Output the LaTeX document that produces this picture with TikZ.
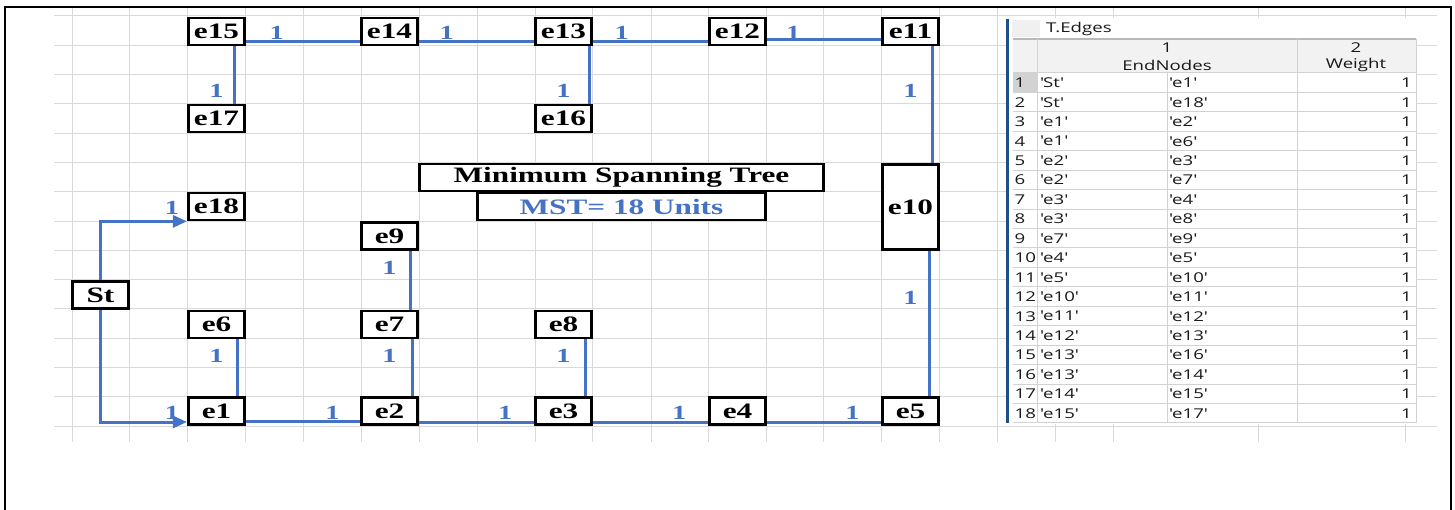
\documentclass[tikz,border=0pt]{standalone}
\usepackage{fontspec}
\setmainfont{Liberation Serif}
\newfontfamily\dgfont{Liberation Serif}[FakeStretch=1.42]
\newfontfamily\tbfont{Open Sans}[FakeStretch=1.38]
\usetikzlibrary{arrows.meta}
\definecolor{lineblue}{RGB}{68,114,196}
\definecolor{barblue}{RGB}{31,78,137}
\definecolor{gridgray}{RGB}{217,217,217}
\definecolor{cellgray}{RGB}{210,210,210}
\definecolor{hdrgray}{RGB}{242,242,242}
\definecolor{tabtext}{RGB}{25,25,25}
\newcommand\qq[1]{\textquotesingle#1\textquotesingle}
\begin{document}
\begin{tikzpicture}[x=1pt,y=-1pt,
  box/.style={draw, line width=2.7pt, fill=white, minimum width=56.5pt, minimum height=27pt,
    inner sep=0pt, font=\dgfont\bfseries\fontsize{22}{22}\selectfont},
  edge/.style={draw=lineblue, line width=3pt},
  tip/.style={-{Triangle[length=14pt,width=12pt]}},
  wt/.style={text=lineblue, inner sep=0pt, font=\dgfont\bfseries\fontsize{20}{20}\selectfont},
  gridline/.style={draw=gridgray, line width=1pt},
  tb/.style={inner sep=0pt, text=tabtext, font=\tbfont\fontsize{13.5}{13.5}\selectfont},
  tabline/.style={draw=cellgray, line width=1pt}]
\useasboundingbox (0,0) rectangle (1455,510);

% spreadsheet grid in the background
\foreach \gx in {72,129,187,245,303,361,419,477,535,592,651,708,766,823,881,939,997,1055,1113,1258,1405}
  \draw[gridline] (\gx,7) -- (\gx,442);
\foreach \k in {0,...,14}{
  \pgfmathsetmacro\gy{16+29.3*\k}
  \draw[gridline] (54,\gy) -- (1437,\gy);
}

% outer frame
\draw[line width=2pt] (5,510) -- (5,7) -- (1451,7) -- (1451,510);

% ---------------- tree nodes ----------------
\node[box] (e15) at (216.5,31.5) {e15};
\node[box] (e14) at (389.5,31.5) {e14};
\node[box] (e13) at (563.5,31.5) {e13};
\node[box] (e12) at (737.5,31.5) {e12};
\node[box] (e11) at (910.5,31.5) {e11};
\node[box] (e17) at (216.5,118.5) {e17};
\node[box] (e16) at (563.5,118.5) {e16};
\node[box] (e18) at (216.5,206.5) {e18};
\node[box] (e9)  at (389.5,236) {e9};
\node[box, minimum height=85.5pt] (e10) at (910.5,207) {e10};
\node[box] (St)  at (100.5,295) {St};
\node[box] (e6)  at (216.5,324.5) {e6};
\node[box] (e7)  at (389.5,324.5) {e7};
\node[box] (e8)  at (563.5,324.5) {e8};
\node[box] (e1)  at (216.5,411) {e1};
\node[box] (e2)  at (389.5,411) {e2};
\node[box] (e3)  at (563.5,411) {e3};
\node[box] (e4)  at (737.5,411) {e4};
\node[box] (e5)  at (910.5,411) {e5};

\node[box, minimum width=404.5pt] (title) at (621.5,177.5) {Minimum Spanning Tree};
\node[box, minimum width=288.5pt, text=lineblue] (total) at (621.5,206.5) {MST= 18 Units};

% ---------------- tree edges ----------------
% top row
\draw[edge] ([yshift=-10.5pt]e15.east) -- ([yshift=-10.5pt]e14.west) node[wt, pos=0.27, yshift=9pt] {1};
\draw[edge] ([yshift=-10.5pt]e14.east) -- ([yshift=-10.5pt]e13.west) node[wt, pos=0.24, yshift=9pt] {1};
\draw[edge] ([yshift=-10.5pt]e13.east) -- ([yshift=-10.5pt]e12.west) node[wt, pos=0.25, yshift=9pt] {1};
\draw[edge] ([yshift=-8.5pt]e12.east) -- ([yshift=-8.5pt]e11.west) node[wt, pos=0.23, yshift=7pt] {1};
% top branches
\draw[edge] ([xshift=17.5pt]e15.south) -- ([xshift=17.5pt]e17.north) node[wt, pos=0.77, xshift=-17.5pt] {1};
\draw[edge] ([xshift=25.5pt]e13.south) -- ([xshift=25.5pt]e16.north) node[wt, pos=0.77, xshift=-25.5pt] {1};
\draw[edge] ([xshift=21.5pt]e11.south) -- ([xshift=21.5pt]e10.north) node[wt, pos=0.38, xshift=-21.5pt] {1};
\draw[edge] ([xshift=18.5pt]e10.south) -- ([xshift=18.5pt]e5.north) node[wt, pos=0.32, xshift=-18.5pt] {1};
% bottom branches
\draw[edge] ([xshift=20.5pt]e1.north) -- ([xshift=20.5pt]e6.south) node[wt, pos=0.7, xshift=-20.5pt] {1};
\draw[edge] ([xshift=22.5pt]e2.north) -- ([xshift=22.5pt]e7.south) node[wt, pos=0.7, xshift=-22.5pt] {1};
\draw[edge] ([xshift=20.5pt]e7.north) -- ([xshift=20.5pt]e9.south) node[wt, pos=0.71, xshift=-20.5pt] {1};
\draw[edge] ([xshift=21.5pt]e3.north) -- ([xshift=21.5pt]e8.south) node[wt, pos=0.7, xshift=-21.5pt] {1};
% bottom row
\draw[edge] ([yshift=-10pt]e1.east) -- ([yshift=-10pt]e2.west) node[wt, pos=0.76, yshift=8pt] {1};
\draw[edge] ([yshift=-11pt]e2.east) -- ([yshift=-11pt]e3.west) node[wt, pos=0.75, yshift=9pt] {1};
\draw[edge] ([yshift=-11pt]e3.east) -- ([yshift=-11pt]e4.west) node[wt, pos=0.75, yshift=9pt] {1};
\draw[edge] ([yshift=-11pt]e4.east) -- ([yshift=-11pt]e5.west) node[wt, pos=0.75, yshift=9pt] {1};
% start node
\draw[edge, tip] (St.north) |- (e18.south west);
\draw[edge, tip] (St.south) |- ([yshift=-11pt]e1.west);
\node[wt] (wSt18) at ([xshift=-15pt, yshift=-1.5pt]e18.west) {1};
\node[wt] (wSt1)  at ([xshift=-15pt, yshift=-2pt]e1.west) {1};

% ---------------- edge table ----------------
\fill[white] (1009,18) rectangle (1416,424);
\fill[hdrgray] (1013,39) rectangle (1416,73);
\fill[gray!12] (1012,20) rectangle (1040,37);
\node[tb, anchor=west] (tname) at (1046,29) {T.Edges};
\fill[cellgray] (1013,73) rectangle (1037,92.4);
\draw[draw=gray!55, line width=1.5pt] (1013,39) -- (1416,39);
\foreach \r in {0,...,18}{
  \pgfmathsetmacro\ry{73+19.44*\r}
  \draw[tabline] (1013,\ry) -- (1416,\ry);
}
\draw[tabline] (1037,39) -- (1037,423);
\draw[tabline] (1297,39) -- (1297,423);
\draw[tabline] (1416,39) -- (1416,423);
\draw[tabline] (1167,73) -- (1167,423);
\node[tb] (h1) at (1167,48) {1};
\node[tb] (h1n) at (1167,65) {EndNodes};
\node[tb] (h2) at (1356,48) {2};
\node[tb] (h2n) at (1356,65) {Weight};
\foreach \r/\a/\b in {1/St/e1, 2/St/e18, 3/e1/e2, 4/e1/e6, 5/e2/e3, 6/e2/e7, 7/e3/e4,
    8/e3/e8, 9/e7/e9, 10/e4/e5, 11/e5/e10, 12/e10/e11, 13/e11/e12, 14/e12/e13,
    15/e13/e16, 16/e13/e14, 17/e14/e15, 18/e15/e17}{
  \pgfmathsetmacro\cy{73+19.44*(\r-1)+9.9}
  \node[tb, anchor=west] (n\r) at (1014.5,\cy) {\r};
  \node[tb, anchor=west] (a\r) at (1040,\cy) {\qq{\a}};
  \node[tb, anchor=west] (b\r) at (1169,\cy) {\qq{\b}};
  \node[tb, anchor=east] (w\r) at (1412,\cy) {1};
}
\draw[draw=barblue, line width=3pt] (1007.5,19) -- (1007.5,423);
\end{tikzpicture}
\end{document}
